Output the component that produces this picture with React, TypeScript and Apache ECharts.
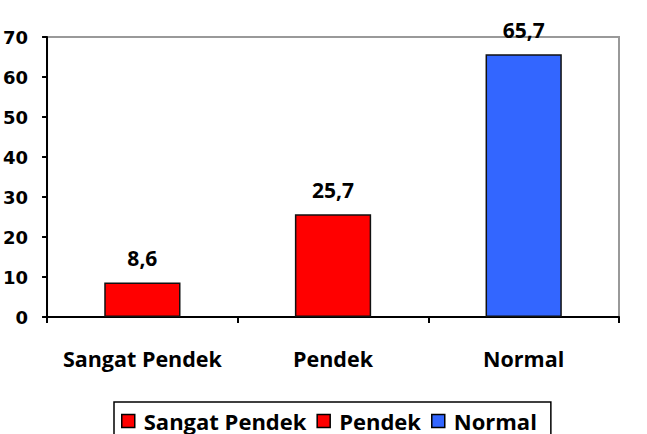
import React, { useEffect, useRef } from "react";
import * as echarts from "echarts";

const categories = ["Sangat Pendek", "Pendek", "Normal"];
const seriesNames = ["Sangat Pendek", "Pendek", "Normal"];
const values = [8.6, 25.7, 65.7];
const colors = ["#ff0000", "#ff0000", "#3366ff"];
const yTicks = { min: 0, max: 70, interval: 10 };

export default function App() {
  const ref = useRef<HTMLDivElement>(null);
  useEffect(() => {
    if (!ref.current) return;
    const chart = echarts.init(ref.current, null, { renderer: "svg" });
    const font = "'Open Sans', sans-serif";
    chart.setOption({
      animation: false,
      backgroundColor: "#ffffff",
      grid: {
        left: 46,
        right: 28,
        top: 37,
        bottom: 117,
        show: true,
        borderColor: "#999999",
        borderWidth: 2,
      },
      legend: {
        data: seriesNames,
        top: 402,
        left: 114,
        borderColor: "#000000",
        borderWidth: 1.5,
        borderRadius: 0,
        padding: [8, 14, 12, 7],
        itemGap: 10,
        itemWidth: 13,
        itemHeight: 13,
        icon: "rect",
        itemStyle: { borderColor: "#000", borderWidth: 1.5 },
        textStyle: {
          fontFamily: font,
          fontWeight: "bold",
          fontSize: 22,
          color: "#000",
          padding: [0, 0, 0, 4],
        },
      },
      xAxis: {
        type: "category",
        data: categories,
        axisLine: { lineStyle: { color: "#000", width: 2 } },
        axisTick: { show: true, length: 6, lineStyle: { color: "#000", width: 2 } },
        axisLabel: {
          interval: 0,
          hideOverlap: false,
          fontFamily: font,
          fontWeight: "bold",
          fontSize: 21.5,
          color: "#000",
          margin: 30,
        },
      },
      yAxis: {
        type: "value",
        min: yTicks.min,
        max: yTicks.max,
        interval: yTicks.interval,
        splitLine: { show: false },
        axisLine: { show: true, lineStyle: { color: "#000", width: 2 } },
        axisTick: { show: true, length: 5, lineStyle: { color: "#000", width: 2 } },
        axisLabel: {
          fontFamily: "'DejaVu Sans', sans-serif",
          fontWeight: "bold",
          fontSize: 18,
          color: "#000",
          margin: 19,
          padding: [6, 0, 0, 0],
        },
      },
      series: seriesNames.map((name, i) => ({
        name,
        type: "bar",
        stack: "all",
        barWidth: "40%",
        data: values.map((v, j) => (j === i ? v : null)),
        itemStyle: { color: colors[i], borderColor: "#111", borderWidth: 1.5 },
        label: {
          show: true,
          position: "top",
          distance: 14,
          fontFamily: font,
          fontWeight: "bold",
          fontSize: 21,
          color: "#000",
          formatter: (p: any) => String(p.value).replace(".", ","),
        },
      })),
    });
    return () => chart.dispose();
  }, []);
  return <div ref={ref} style={{ width: 647, height: 434, position: "absolute", left: 0, top: 0 }} />;
}
